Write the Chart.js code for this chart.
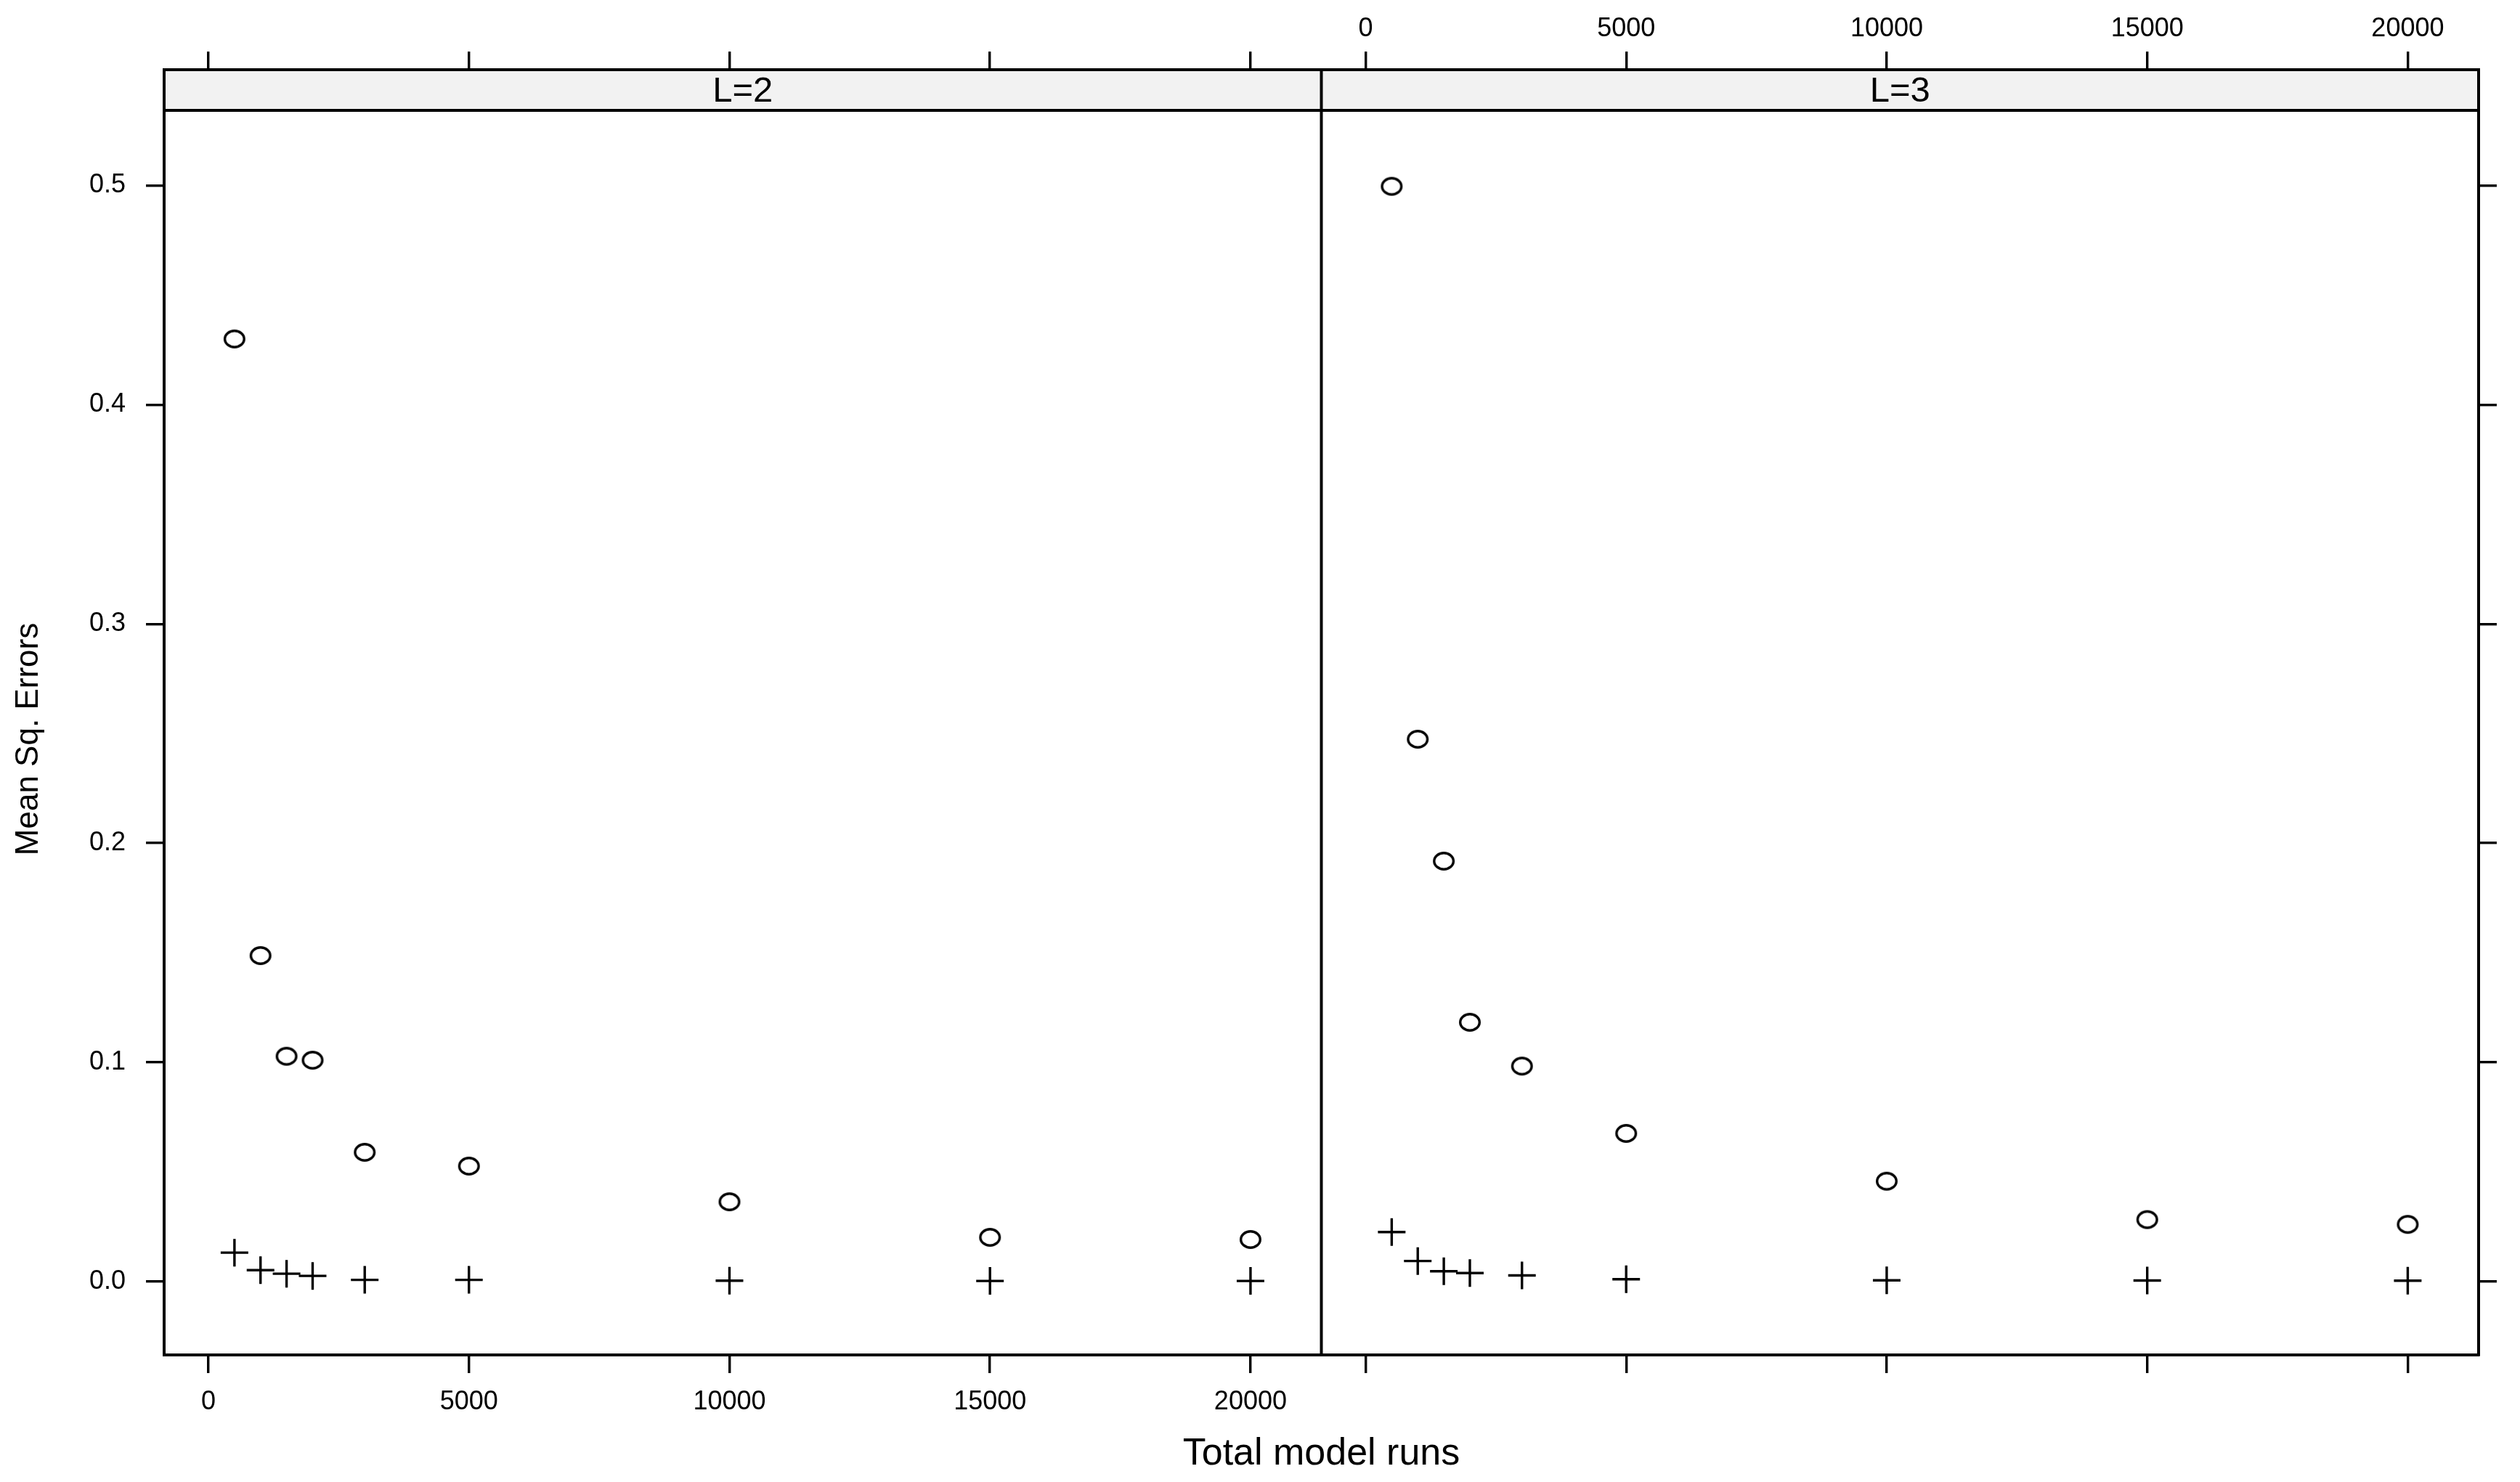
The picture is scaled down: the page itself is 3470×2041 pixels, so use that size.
<!DOCTYPE html>
<html>
<head>
<meta charset="utf-8">
<script src="https://cdn.jsdelivr.net/npm/chart.js@4.4.1/dist/chart.umd.min.js"></script>
<style>
  html, body { margin: 0; padding: 0; background: #ffffff; }
  #wrap { position: relative; width: 3470px; height: 2041px; }
  canvas { display: block; }
</style>
</head>
<body>
<div id="wrap"><canvas id="c" width="3470" height="2041"></canvas></div>
<script>
// ---- data ----
const runs = [500, 1000, 1500, 2000, 3000, 5000, 10000, 15000, 20000];
const panelLabels = ['L=2', 'L=3'];
const l2Circles = [0.430, 0.1487, 0.1028, 0.1010, 0.0590, 0.0527, 0.0364, 0.0202, 0.0192];
const l2Crosses = [0.0132, 0.0052, 0.0036, 0.0026, 0.0008, 0.0008, 0.0004, 0.0003, 0.0003];
const l3Circles = [0.4996, 0.2474, 0.1918, 0.1183, 0.0983, 0.0676, 0.0458, 0.0283, 0.0261];
const l3Crosses = [0.0226, 0.0094, 0.0047, 0.0039, 0.0028, 0.0011, 0.0006, 0.0005, 0.0004];
const xTicks = [0, 5000, 10000, 15000, 20000];
const yTicks = [0.0, 0.1, 0.2, 0.3, 0.4, 0.5];
const xTitle = 'Total model runs';
const yTitle = 'Mean Sq. Errors';

// ---- styling ----
const FONT = '"Liberation Sans", Arial, Helvetica, sans-serif';
Chart.defaults.font.family = FONT;
Chart.defaults.color = '#000';

const X_MIN = -850, X_MAX = 21360;
const Y_MIN = -0.03345, Y_MAX = 0.5528;
const TICK_LEN = 25;
const STRIP_H = 56;

// open ellipse marker (R-style circle, slightly wider than tall)
function makeRing() {
  const c = document.createElement('canvas');
  c.width = 32; c.height = 28;
  const g = c.getContext('2d');
  g.strokeStyle = '#000';
  g.lineWidth = 3.4;
  g.beginPath();
  g.ellipse(16, 14, 13.3, 11.2, 0, 0, Math.PI * 2);
  g.stroke();
  return c;
}
const ring = makeRing();

function pts(xs, ys) { return xs.map((x, i) => ({ x: x, y: ys[i] })); }

function circleSet(ys, axis) {
  return { data: pts(runs, ys), xAxisID: axis, yAxisID: 'y', pointStyle: ring,
           pointRadius: 14, borderColor: '#000', backgroundColor: 'rgba(0,0,0,0)', showLine: false };
}
function crossSet(ys, axis) {
  return { data: pts(runs, ys), xAxisID: axis, yAxisID: 'y', pointStyle: 'cross',
           pointRadius: 19, pointBorderWidth: 3.4, borderColor: '#000', backgroundColor: '#000', showLine: false };
}

const gridOpts = { drawOnChartArea: false, drawTicks: true, tickLength: TICK_LEN, color: '#000', lineWidth: 3.4 };
const borderOpts = { display: true, color: '#000', width: 4 };

function xScale(pos, stack, showLabels, pad, fitSize) {
  return {
    type: 'linear', position: pos, stack: stack, stackWeight: 1,
    min: X_MIN, max: X_MAX,
    afterBuildTicks: s => { s.ticks = xTicks.map(v => ({ value: v })); },
    afterFit: s => { s.height = fitSize; },
    ticks: { display: showLabels, padding: pad, maxRotation: 0, autoSkip: false,
             font: { size: 36 }, color: '#000', callback: v => String(v) },
    grid: gridOpts, border: borderOpts
  };
}

const framePlugin = {
  id: 'latticeFrame',
  afterDraw(chart) {
    const ctx = chart.ctx;
    const ca = chart.chartArea;
    const sL = chart.scales.x, sR = chart.scales.x2;
    ctx.save();
    // strips
    ctx.fillStyle = '#f2f2f2';
    ctx.fillRect(ca.left, ca.top, ca.right - ca.left, STRIP_H);
    ctx.strokeStyle = '#000';
    ctx.lineWidth = 4;
    ctx.beginPath();
    ctx.moveTo(ca.left, ca.top + STRIP_H); ctx.lineTo(ca.right, ca.top + STRIP_H);
    ctx.moveTo(ca.left, ca.top); ctx.lineTo(ca.right, ca.top);
    ctx.moveTo(sR.left, ca.top); ctx.lineTo(sR.left, ca.bottom);
    ctx.moveTo(ca.left, ca.top); ctx.lineTo(ca.left, ca.bottom);
    ctx.moveTo(ca.right, ca.top); ctx.lineTo(ca.right, ca.bottom);
    ctx.stroke();
    ctx.fillStyle = '#000';
    ctx.font = '49px ' + FONT;
    ctx.textAlign = 'center';
    ctx.textBaseline = 'middle';
    ctx.fillText(panelLabels[0], (sL.left + sL.right) / 2, ca.top + STRIP_H / 2 + 2);
    ctx.fillText(panelLabels[1], (sR.left + sR.right) / 2, ca.top + STRIP_H / 2 + 2);
    // axis titles
    ctx.font = '52px ' + FONT;
    ctx.fillText(xTitle, (ca.left + ca.right) / 2, 2003);
    ctx.translate(40, 1018);
    ctx.rotate(-Math.PI / 2);
    ctx.font = '44px ' + FONT;
    ctx.fillText(yTitle, 0, 0);
    ctx.restore();
  }
};

new Chart(document.getElementById('c'), {
  type: 'scatter',
  data: {
    datasets: [
      circleSet(l2Circles, 'x'), crossSet(l2Crosses, 'x'),
      circleSet(l3Circles, 'x2'), crossSet(l3Crosses, 'x2')
    ]
  },
  options: {
    responsive: false, animation: false, devicePixelRatio: 1,
    layout: { padding: 0 },
    plugins: { legend: { display: false }, tooltip: { enabled: false }, title: { display: false } },
    scales: {
      y: {
        type: 'linear', position: 'left', min: Y_MIN, max: Y_MAX,
        afterBuildTicks: s => { s.ticks = yTicks.map(v => ({ value: v })); },
        afterFit: s => { s.width = 226; },
        ticks: { padding: 28, font: { size: 36 }, color: '#000', callback: v => Number(v).toFixed(1) },
        grid: gridOpts, border: borderOpts
      },
      y2: {
        type: 'linear', position: 'right', min: Y_MIN, max: Y_MAX,
        afterBuildTicks: s => { s.ticks = yTicks.map(v => ({ value: v })); },
        afterFit: s => { s.width = 57; },
        ticks: { display: false },
        grid: gridOpts, border: borderOpts
      },
      x: xScale('bottom', 'bot', true, 18, 175),
      x2: xScale('bottom', 'bot', false, 18, 175),
      // the top stack is laid out right-to-left, so the labelled one is listed first
      xt: xScale('top', 'top', true, 9, 96),
      x2t: xScale('top', 'top', false, 9, 96)
    }
  },
  plugins: [framePlugin]
});
</script>
</body>
</html>
